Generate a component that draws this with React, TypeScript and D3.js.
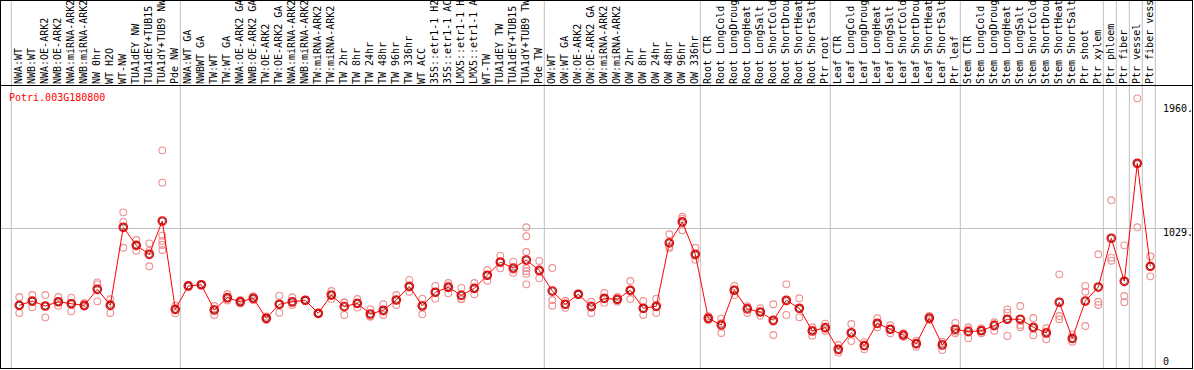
import React from "react";
import * as d3 from "d3";

const geneId = "Potri.003G180800";

const sampleLabels = [
  "NWA:WT", "NWB:WT", "NWA:OE-ARK2", "NWB:OE-ARK2", "NWA:miRNA-ARK2", "NWB:miRNA-ARK2",
  "NW 0hr", "WT H2O", "WT-NW", "TUA1dEY NW", "TUA1dEY+TUB15", "TUA1dY+TUB9 NW", "Pde NW",
  "NWA:WT GA", "NWBWT GA", "TW:WT", "TW:WT GA", "NWA:OE-ARK2 GA", "NWB:OE-ARK2 GA",
  "TW:OE-ARK2", "TW:OE-ARK2 GA", "NWA:miRNA-ARK2", "NWB:miRNA-ARK2", "TW:miRNA-ARK2",
  "TW:miRNA-ARK2", "TW 2hr", "TW 8hr", "TW 24hr", "TW 48hr", "TW 96hr", "TW 336hr",
  "WT ACC", "35S::etr1-1 H2O", "35S::etr1-1 ACC", "LMX5::etr1-1 H2O", "LMX5::etr1-1 ACC",
  "WT-TW", "TUA1dEY TW", "TUA1dEY+TUB15", "TUA1dY+TUB9 TW", "Pde TW",
  "OW:WT", "OW:WT GA", "OW:OE-ARK2", "OW:OE-ARK2 GA", "OW:miRNA-ARK2", "OW:miRNA-ARK2",
  "OW 2hr", "OW 8hr", "OW 24hr", "OW 48hr", "OW 96hr", "OW 336hr",
  "Root CTR", "Root LongCold", "Root LongDrought", "Root LongHeat", "Root LongSalt",
  "Root ShortCold", "Root ShortDrought", "Root ShortHeat", "Root ShortSalt", "Ptr root",
  "Leaf CTR", "Leaf LongCold", "Leaf LongDrought", "Leaf LongHeat", "Leaf LongSalt",
  "Leaf ShortCold", "Leaf ShortDrought", "Leaf ShortHeat", "Leaf ShortSalt", "Ptr leaf",
  "Stem CTR", "Stem LongCold", "Stem LongDrought", "Stem LongHeat", "Stem LongSalt",
  "Stem ShortCold", "Stem ShortDrought", "Stem ShortHeat", "Stem ShortSalt",
  "Ptr shoot", "Ptr xylem", "Ptr phloem", "Ptr fiber", "Ptr vessel", "Ptr fiber vessel",
];

const meanValues = [
  454, 486, 449, 481, 466, 454, 574, 454, 1038, 903, 836, 1085, 424,
  599, 608, 419, 511, 481, 507, 357, 462, 481, 492, 394, 531, 444, 469, 389, 417, 494, 596,
  449, 552, 589, 529, 581, 679, 778, 733, 793, 716, 561,
  462, 537, 444, 507, 499, 567, 432, 447, 921, 1078, 836,
  357, 307, 567, 427, 404, 342, 492, 432, 262, 287,
  125, 249, 152, 320, 275, 232, 167, 359, 157, 275,
  257, 264, 302, 350, 350, 290, 247, 477, 207, 486,
  591, 956, 634, 1517, 746,
];

const replicateValues: number[][] = [
  [516, 397, 454], [531, 439, 486], [531, 364, 449], [516, 451, 478], [511, 409, 474],
  [471, 447, 445], [626, 611, 484], [499, 397, 466], [1150, 1078, 885], [943, 863, 905],
  [918, 746, 861], [1614, 1372, 975, 936, 906, 868], [451, 394, 427],
  [599, 604, 594], [608, 612, 603], [449, 382, 426], [539, 504, 490], [494, 468, 481],
  [522, 507, 492], [370, 357, 344], [526, 399, 462], [514, 457, 472], [492, 497, 487],
  [394, 398, 390], [561, 531, 501], [477, 382, 473], [501, 469, 437], [424, 374, 369],
  [462, 382, 407], [531, 457, 494], [644, 556, 588], [504, 387, 456], [599, 504, 553],
  [621, 544, 602], [584, 499, 504], [621, 537, 585], [718, 638, 681], [826, 731, 777],
  [781, 698, 720], [1038, 971, 853, 731, 711, 691, 611], [786, 656, 706], [733, 494, 451],
  [436, 462, 488], [537, 541, 533], [481, 397, 454], [546, 474, 501], [516, 499, 482],
  [636, 501, 564], [486, 382, 428], [504, 397, 440], [986, 883, 894], [1117, 1016, 1101],
  [885, 796, 827], [372, 357, 342], [354, 247, 320], [599, 531, 571], [447, 397, 437],
  [376, 404, 432], [462, 232, 332], [611, 382, 483], [507, 364, 425], [290, 227, 269],
  [317, 264, 280], [157, 100, 118], [314, 187, 246], [125, 152, 179], [357, 290, 313],
  [245, 275, 305], [219, 232, 245], [144, 167, 190], [374, 359, 344], [120, 182, 169],
  [322, 245, 258], [290, 207, 274], [245, 264, 283], [327, 264, 315], [424, 399, 225, 352],
  [449, 307, 290], [359, 230, 281], [282, 200, 259], [686, 374, 350], [237, 182, 202],
  [599, 556, 299], [836, 481, 457], [1240, 811, 788], [903, 524, 477], [2003, 1038, 1510],
  [821, 671, 746],
];

const groupStarts = [0, 13, 41, 53, 63, 73, 84, 85, 86, 87, 88];
const tickValues = [1960, 1029, 0];
const tickLabels = ["1960.", "1029.", "0"];
const gridValues = [1029];

const W = 1194;
const H = 370;
const FONT = "'DejaVu Sans Mono', 'Liberation Mono', monospace";

export default function App() {
  const n = sampleLabels.length;
  const x = d3.scaleLinear().domain([0, n]).range([11.3, 1155.3]);
  const px = (i: number) => x(i) + 8;
  const y = d3.scaleLinear().domain([0, 1029]).range([366, 228.5]);
  const line = d3
    .line<number>()
    .x((_, i) => px(i))
    .y((d) => y(d));

  return (
    <svg
      width={W}
      height={H}
      style={{ position: "absolute", left: 0, top: 0, background: "#fff" }}
      fontFamily={FONT}
      fontSize={10}
    >
      <rect x={0} y={0} width={W} height={H} fill="#fff" />
      {groupStarts.map((g) => (
        <line key={"s" + g} x1={x(g)} x2={x(g)} y1={0} y2={369} stroke="#c0c0c0" strokeWidth={1} />
      ))}
      {gridValues.map((v) => (
        <line key={"g" + v} x1={1} x2={1192} y1={y(v)} y2={y(v)} stroke="#c0c0c0" strokeWidth={1} />
      ))}
      <line x1={0} x2={1193} y1={85.5} y2={85.5} stroke="#000" strokeWidth={1} />
      <rect x={0.5} y={0.5} width={1192} height={368} fill="none" stroke="#000" strokeWidth={1} />
      {sampleLabels.map((s, i) => (
        <text
          key={"l" + i}
          transform={`translate(${px(i) + 3},84) rotate(-90)`}
          fill="#000"
        >
          {s}
        </text>
      ))}
      <text x={9} y={101} fill="#ff0000">{geneId}</text>
      {tickValues.map((v, i) => (
        <text key={"t" + v} x={1163} y={Math.min(y(v) + 7.5, 365)} fill="#000">
          {tickLabels[i]}
        </text>
      ))}
      <g>
        {replicateValues.map((reps, i) =>
          reps.map((v, j) => (
            <circle
              key={"r" + i + "_" + j}
              cx={px(i)}
              cy={y(v)}
              r={3.4}
              fill="none"
              stroke="#ec9090"
              strokeWidth={1.1}
            />
          ))
        )}
      </g>
      <path d={line(meanValues) || ""} fill="none" stroke="#ff0000" strokeWidth={1} />
      <g>
        {meanValues.map((v, i) => (
          <g key={"m" + i}>
            <circle cx={px(i)} cy={y(v)} r={4.2} fill="none" stroke="#ff0000" strokeWidth={1.3} />
            <circle cx={px(i)} cy={y(v)} r={3.2} fill="none" stroke="#5a0000" strokeWidth={0.8} />
          </g>
        ))}
      </g>
    </svg>
  );
}
